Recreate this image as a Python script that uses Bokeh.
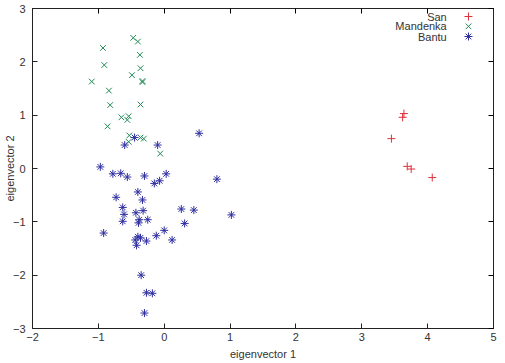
from bokeh.plotting import figure
from bokeh.models import LinearAxis, Label, FixedTicker
from bokeh.embed import file_html
from bokeh.resources import INLINE

# First two eigenvectors of the genotype PCA, per population
san_x = [3.45, 3.62, 3.64, 3.69, 3.75, 4.07]
san_y = [0.56, 0.96, 1.03, 0.04, -0.01, -0.17]

mandenka_x = [-0.47, -0.40, -0.93, -0.37, -0.91, -0.36, -0.49, -0.33, -0.33, -1.10,
              -0.84, -0.82, -0.36, -0.65, -0.54, -0.56, -0.86, -0.53, -0.36, -0.31,
              -0.54, -0.06]
mandenka_y = [2.45, 2.38, 2.26, 2.13, 1.94, 1.88, 1.75, 1.64, 1.62, 1.63,
              1.46, 1.19, 1.20, 0.96, 0.98, 0.91, 0.79, 0.62, 0.58, 0.56,
              0.50, 0.28]

bantu_x = [-0.45, -0.60, -0.10, 0.53, -0.97, -0.78, -0.66, -0.56, -0.30, 0.03,
           -0.15, -0.07, 0.80, -0.40, -0.73, -0.33, -0.63, 0.26, 0.45, -0.32,
           -0.43, -0.61, 1.02, -0.38, -0.25, -0.63, -0.39, 0.31, -0.92, 0.00,
           -0.12, 0.12, -0.40, -0.44, -0.27, -0.42, -0.36, -0.35, -0.27, -0.18,
           -0.30]
bantu_y = [0.58, 0.44, 0.44, 0.66, 0.03, -0.10, -0.09, -0.16, -0.14, -0.10,
           -0.28, -0.23, -0.20, -0.44, -0.54, -0.59, -0.73, -0.76, -0.78, -0.79,
           -0.83, -0.86, -0.87, -0.96, -0.96, -0.99, -1.02, -1.03, -1.21, -1.16,
           -1.26, -1.34, -1.28, -1.34, -1.36, -1.44, -1.30, -2.00, -2.33, -2.34,
           -2.71]

x_ticks = [-2, -1, 0, 1, 2, 3, 4, 5]
y_ticks = [-3, -2, -1, 0, 1, 2, 3]

legend_names = ["San", "Mandenka", "Bantu"]
RED, GREEN, BLUE = "#e0303a", "#1f8a55", "#2f2fa0"
TXT = "#333333"
FONT = "Liberation Sans"

p = figure(width=505, height=363, x_range=(-2, 5), y_range=(-3, 3),
           frame_width=461, frame_height=320,
           output_backend="svg", toolbar_location=None,
           min_border_left=32, min_border_right=12,
           min_border_top=8, min_border_bottom=35)
p.grid.visible = False
p.outline_line_color = "#222222"
p.outline_line_width = 1
p.background_fill_color = "white"
p.border_fill_color = "white"

p.xaxis.ticker = FixedTicker(ticks=x_ticks)
p.yaxis.ticker = FixedTicker(ticks=y_ticks)
p.xaxis.axis_label = "eigenvector 1"
p.yaxis.axis_label = "eigenvector 2"

for ax in p.xaxis + p.yaxis:
    ax.axis_line_color = "#222222"
    ax.major_tick_in = 5
    ax.major_tick_out = 0
    ax.minor_tick_line_color = None
    ax.major_tick_line_color = "#222222"
    ax.major_label_text_font = FONT
    ax.major_label_text_font_size = "11px"
    ax.major_label_text_color = TXT
    ax.axis_label_text_font = FONT
    ax.axis_label_text_font_size = "11px"
    ax.axis_label_text_font_style = "normal"
    ax.axis_label_text_color = TXT
    ax.major_label_standoff = 4
    ax.axis_label_standoff = 4
p.yaxis.major_label_standoff = 7
p.yaxis.axis_label_standoff = -6

# mirrored tick marks on the top and right borders
top = LinearAxis(ticker=FixedTicker(ticks=x_ticks), major_label_text_font_size="0px",
                 major_tick_in=5, major_tick_out=0, minor_tick_line_color=None,
                 major_label_standoff=0, axis_line_color="#222222")
right = LinearAxis(ticker=FixedTicker(ticks=y_ticks), major_label_text_font_size="0px",
                   major_tick_in=5, major_tick_out=0, minor_tick_line_color=None,
                   major_label_standoff=0, axis_line_color="#222222")
top.major_label_overrides = {t: "" for t in x_ticks}
right.major_label_overrides = {t: "" for t in y_ticks}
p.add_layout(top, "above")
p.add_layout(right, "right")

p.scatter(san_x, san_y, marker="cross", size=8, line_color=RED, line_width=1)
p.scatter(mandenka_x, mandenka_y, marker="x", size=8, line_color=GREEN, line_width=1)
p.scatter(bantu_x, bantu_y, marker="asterisk", size=8, line_color=BLUE, line_width=1)

# key in the upper right corner: right-aligned names followed by the marker
key_text_x = 4.29
key_mark_x = 4.62
key_y = [2.85, 2.665, 2.475]
for name, ky in zip(legend_names, key_y):
    p.add_layout(Label(x=key_text_x, y=ky, text=name, text_align="right",
                       text_baseline="middle", text_font=FONT,
                       text_font_size="11px", text_color=TXT))
p.scatter([key_mark_x], [key_y[0]], marker="cross", size=8, line_color=RED)
p.scatter([key_mark_x], [key_y[1]], marker="x", size=8, line_color=GREEN)
p.scatter([key_mark_x], [key_y[2]], marker="asterisk", size=8, line_color=BLUE)

open("out.html", "w").write(file_html(p, INLINE))
